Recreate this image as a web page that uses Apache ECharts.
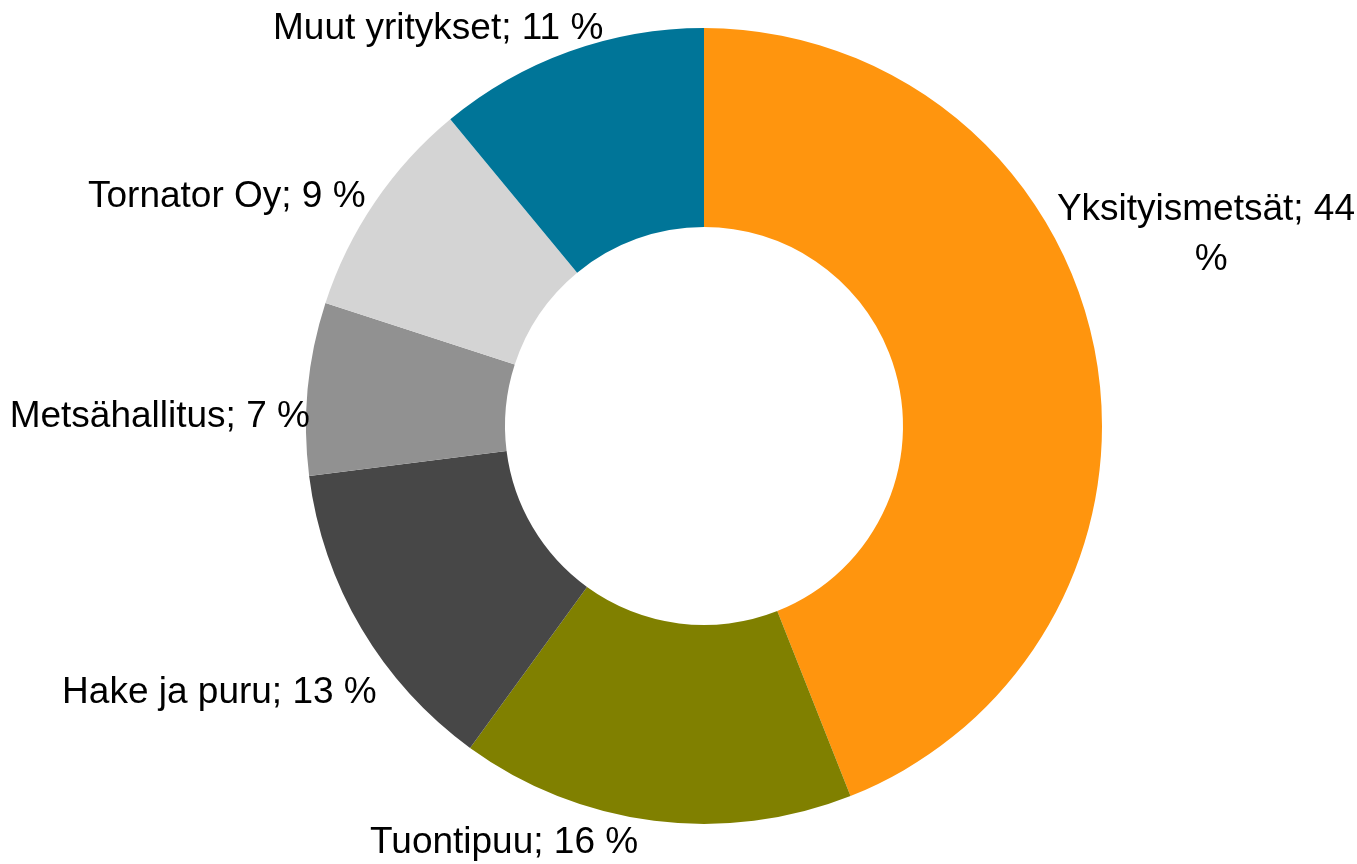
<!DOCTYPE html>
<html>
<head>
<meta charset="utf-8">
<script src="https://cdn.jsdelivr.net/npm/echarts@6/dist/echarts.min.js"></script>
<style>
  html, body { margin: 0; padding: 0; background: #fff; }
  #main { width: 1357px; height: 864px; }
</style>
</head>
<body>
<div id="main"></div>
<script>
// 数据：各来源占比（%），顺时针从顶部开始
const categories = ['Yksityismetsät', 'Tuontipuu', 'Hake ja puru', 'Metsähallitus', 'Tornator Oy', 'Muut yritykset'];
const shares = [44, 16, 13, 7, 9, 11];
const colors = ['#FF950E', '#808000', '#474747', '#919191', '#D4D4D4', '#007598'];

// 标签相对于扇区外缘点的偏移
const labelShift = [
    [106, -117],
    [-145, 22],
    [-137, 64],
    [-143, 28],
    [-143, -5],
    [-126, -23]
];

const myChart = echarts.init(document.getElementById('main'));

const pieData = categories.map((name, i) => {
    const item = {
        name: name,
        value: shares[i],
        itemStyle: { color: colors[i] }
    };
    if (i === 0) {
        // 第一个标签需要换行
        item.label = { width: 320, overflow: 'break' };
    }
    return item;
});

const option = {
    backgroundColor: '#ffffff',
    animation: false,
    series: [{
        type: 'pie',
        center: [704, 426],
        radius: [199, 398],
        startAngle: 90,
        clockwise: true,
        avoidLabelOverlap: false,
        data: pieData,
        label: {
            show: true,
            position: 'outside',
            formatter: '{b}; {c} %',
            color: '#000',
            fontFamily: '"Liberation Sans", Arial, sans-serif',
            fontSize: 37,
            lineHeight: 50
        },
        labelLine: { show: false, length: 0, length2: 0 },
        labelLayout: function (params) {
            const s = labelShift[params.dataIndex];
            return { dx: s[0], dy: s[1], align: 'center', verticalAlign: 'middle' };
        },
        emphasis: { disabled: true }
    }]
};

myChart.setOption(option);
</script>
</body>
</html>
